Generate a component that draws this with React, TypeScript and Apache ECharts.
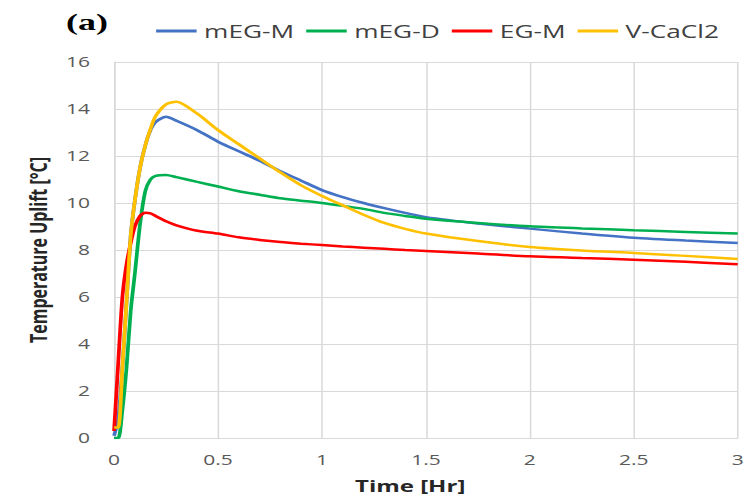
import React, { useEffect, useRef } from "react";
import * as echarts from "echarts";

// Time [Hr]
const times = [0, 0.02, 0.04, 0.06, 0.08, 0.1, 0.125, 0.15, 0.175, 0.2, 0.25, 0.3, 0.4, 0.5, 0.6, 0.7, 0.8, 0.9, 1.0, 1.1, 1.2, 1.3, 1.4, 1.5, 1.75, 2.0, 2.25, 2.5, 2.75, 3.0];

const mEGM = [0.1, 0.8, 3.0, 5.8, 8.6, 10.1, 11.5, 12.45, 13.1, 13.45, 13.67, 13.5, 13.1, 12.61, 12.2, 11.8, 11.35, 10.95, 10.55, 10.25, 10.0, 9.78, 9.58, 9.4, 9.13, 8.91, 8.7, 8.52, 8.4, 8.3];
const mEGD = [0, 0, 1.2, 3.0, 5.4, 7.0, 9.1, 10.5, 11.0, 11.15, 11.19, 11.1, 10.9, 10.7, 10.5, 10.35, 10.2, 10.1, 10.0, 9.88, 9.75, 9.58, 9.45, 9.33, 9.15, 9.01, 8.92, 8.84, 8.77, 8.7];
const EGM = [0.3, 3.2, 6.0, 7.4, 8.3, 9.0, 9.45, 9.58, 9.56, 9.45, 9.22, 9.05, 8.82, 8.7, 8.54, 8.43, 8.34, 8.27, 8.21, 8.15, 8.1, 8.05, 8.0, 7.96, 7.85, 7.73, 7.66, 7.59, 7.5, 7.39];
const VCaCl2 = [0.45, 0.45, 3.0, 5.8, 8.6, 10.1, 11.5, 12.45, 13.15, 13.7, 14.2, 14.31, 13.8, 13.1, 12.5, 11.9, 11.3, 10.75, 10.3, 9.9, 9.5, 9.15, 8.9, 8.7, 8.38, 8.13, 7.98, 7.87, 7.75, 7.62];

const seriesNames = ["mEG-M", "mEG-D", "EG-M", "V-CaCl2"];
const seriesValues = [mEGM, mEGD, EGM, VCaCl2];
const seriesColors = ["#4472C4", "#00B050", "#FF0000", "#FFC000"];

const OUTER_W = 755;
const OUTER_H = 499;
const INNER_W = 503;
const SX = OUTER_W / INNER_W;

export default function App() {
  const ref = useRef<HTMLDivElement>(null);
  useEffect(() => {
    if (!ref.current) return;
    const chart = echarts.init(ref.current, undefined, { renderer: "svg" });
    const font = "'Open Sans', sans-serif";
    chart.setOption({
      animation: false,
      backgroundColor: "#ffffff",
      grid: { left: 76, right: 11.5, top: 62, bottom: 61, containLabel: false },
      legend: {
        data: seriesNames,
        left: 99,
        top: 17,
        icon: "rect",
        itemWidth: 27,
        itemHeight: 3,
        itemGap: 8,
        textStyle: { fontFamily: font, fontSize: 17.5, color: "#404040" },
      },
      graphic: [
        {
          type: "text",
          left: 44,
          top: 10,
          style: {
            text: "(a)",
            font: "bold 24px 'Liberation Serif', serif",
            fill: "#000000",
          },
        },
      ],
      xAxis: {
        type: "value",
        min: 0,
        max: 3,
        interval: 0.5,
        name: "Time [Hr]",
        nameLocation: "middle",
        nameGap: 40,
        nameTextStyle: {
          fontFamily: font,
          fontSize: 16,
          fontWeight: "bold",
          color: "#262626",
          padding: [0, 21, 0, 0],
        },
        axisLine: { show: true, lineStyle: { color: "#D9D9D9", width: 1 } },
        axisTick: { show: false },
        axisLabel: {
          fontFamily: font,
          fontSize: 14,
          color: "#595959",
          margin: 15,
          showMinLabel: true,
          showMaxLabel: true,
        },
        splitLine: { show: true, lineStyle: { color: "#D9D9D9", width: 1 } },
      },
      yAxis: {
        type: "value",
        min: 0,
        max: 16,
        interval: 2,
        name: "Temperature Uplift [°C]",
        nameLocation: "middle",
        nameGap: 41,
        nameTextStyle: {
          fontFamily: font,
          fontSize: 16,
          fontWeight: "bold",
          color: "#262626",
        },
        axisLine: { show: true, lineStyle: { color: "#D9D9D9", width: 1 } },
        axisTick: { show: false },
        axisLabel: {
          fontFamily: font,
          fontSize: 14,
          color: "#595959",
          margin: 16,
        },
        splitLine: { show: true, lineStyle: { color: "#D9D9D9", width: 1 } },
      },
      series: seriesNames.map((name, i) => ({
        name,
        type: "line",
        data: times.map((t, j) => [t, seriesValues[i][j]]),
        showSymbol: false,
        smooth: 0.25,
        lineStyle: { color: seriesColors[i], width: 2.5 },
        itemStyle: { color: seriesColors[i] },
      })),
    });
    return () => chart.dispose();
  }, []);

  return (
    <div
      style={{
        position: "fixed",
        left: 0,
        top: 0,
        width: OUTER_W,
        height: OUTER_H,
        overflow: "hidden",
        background: "#ffffff",
      }}
    >
      <div
        ref={ref}
        style={{
          width: INNER_W,
          height: OUTER_H,
          transform: `scaleX(${SX})`,
          transformOrigin: "0 0",
        }}
      />
    </div>
  );
}
